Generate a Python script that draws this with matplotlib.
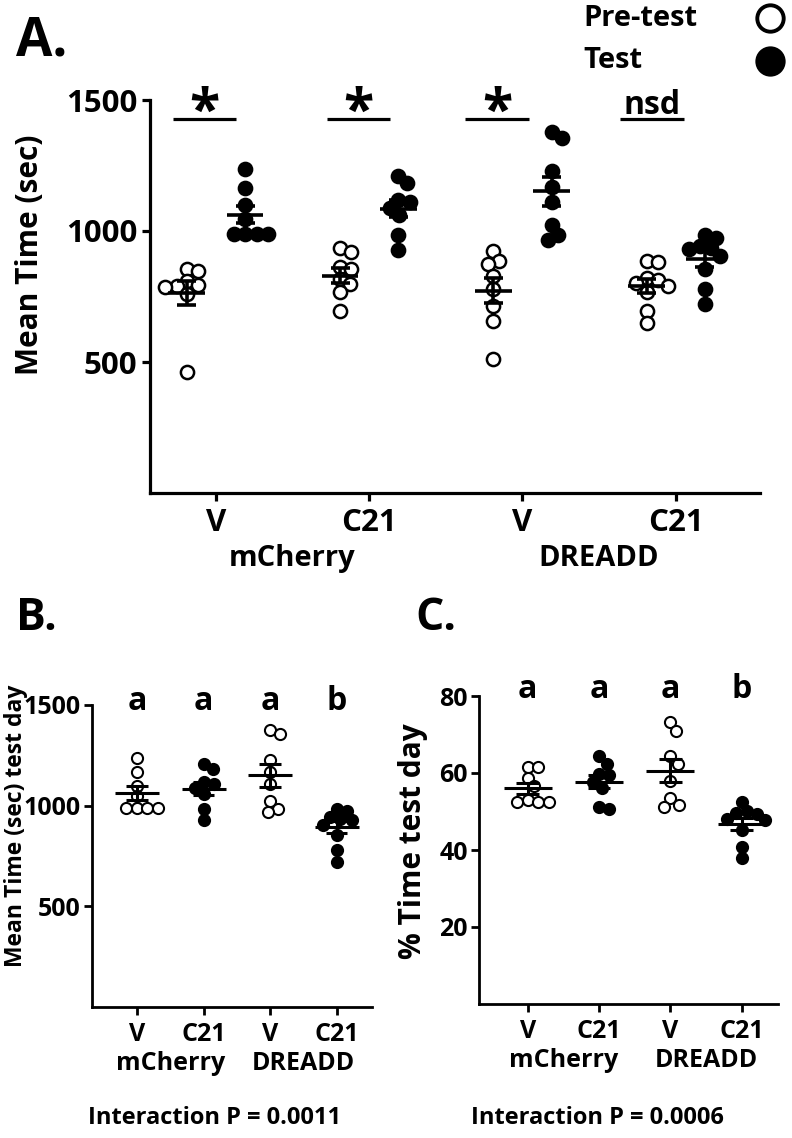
import numpy as np
import matplotlib
matplotlib.use('Agg')
import matplotlib.pyplot as plt
from matplotlib.lines import Line2D

plt.rcParams['font.family'] = ['Open Sans', 'DejaVu Sans']
plt.rcParams['font.weight'] = 'bold'

# ---------------- data ----------------
groups = ['V', 'C21', 'V', 'C21']
viruses = ['mCherry', 'DREADD']

pre_mch_v = [854, 848, 810, 795, 790, 785, 760, 462]
pre_mch_c21 = [934, 918, 861, 855, 816, 797, 766, 694]
pre_dre_v = [924, 886, 873, 829, 780, 715, 658, 512]
pre_dre_c21 = [886, 882, 819, 814, 801, 791, 766, 696, 648]

test_mch_v = [1237, 1165, 1099, 1046, 989, 989, 989, 989]
test_mch_c21 = [1209, 1182, 1118, 1110, 1088, 1060, 985, 927]
test_dre_v = [1377, 1356, 1228, 1167, 1109, 1021, 985, 967]
test_dre_c21 = [984, 975, 944, 935, 930, 906, 856, 778, 720]

pct_mch_v = [61.6, 61.6, 58.7, 56.5, 52.9, 52.4, 52.4, 52.4]
pct_mch_c21 = [64.3, 62.4, 59.8, 59.6, 57.6, 56.1, 51.2, 50.7]
pct_dre_v = [73.2, 70.9, 64.3, 62.4, 57.8, 53.4, 51.8, 51.2]
pct_dre_c21 = [52.5, 50.1, 49.5, 49.3, 48.1, 47.7, 45.3, 40.9, 37.8]

pre_sets = [pre_mch_v, pre_mch_c21, pre_dre_v, pre_dre_c21]
test_sets = [test_mch_v, test_mch_c21, test_dre_v, test_dre_c21]
pct_sets = [pct_mch_v, pct_mch_c21, pct_dre_v, pct_dre_c21]

sig_labels = ['*', '*', '*', 'nsd']
letters = ['a', 'a', 'a', 'b']
p_texts = ['Interaction P = 0.0011', 'Interaction P = 0.0006']
legend_labels = ['Pre-test', 'Test']

# ---------------- helpers ----------------
W, H = 792, 1138


def swarm(ax, x0, vals, diam_px):
    vals = np.asarray(vals, dtype=float)
    pts = ax.transData.transform(np.column_stack([np.full(len(vals), x0), vals]))
    ys = pts[:, 1]
    xc = pts[0, 0]
    order = np.argsort(-vals, kind='stable')
    placed = []
    offs = np.zeros(len(vals))
    for i in order:
        y = ys[i]
        cands = [0.0]
        for (px, py) in placed:
            dy = abs(py - y)
            if dy < diam_px:
                dx = np.sqrt(diam_px ** 2 - dy ** 2)
                cands += [px + dx, px - dx]
        cands = sorted(cands, key=lambda c: (abs(c), -c))
        chosen = cands[-1]
        for c in cands:
            if all((c - px) ** 2 + (y - py) ** 2 >= diam_px ** 2 - 1e-6 for px, py in placed):
                chosen = c
                break
        placed.append((chosen, y))
        offs[i] = chosen
    inv = ax.transData.inverted()
    return inv.transform(np.column_stack([xc + offs, ys]))[:, 0]


def mean_sem(ax, x, vals, hw, cw, lw):
    v = np.asarray(vals, dtype=float)
    m = v.mean()
    s = v.std(ddof=1) / np.sqrt(len(v))
    ax.hlines(m, x - hw, x + hw, color='black', lw=lw, zorder=5)
    ax.vlines(x, m - s, m + s, color='black', lw=lw, zorder=5)
    ax.hlines([m - s, m + s], x - cw, x + cw, color='black', lw=lw, zorder=5)


def style_axes(ax, lw):
    for sp in ['top', 'right']:
        ax.spines[sp].set_visible(False)
    for sp in ['left', 'bottom']:
        ax.spines[sp].set_linewidth(lw)
    ax.tick_params(width=lw, length=6, color='black')


def points(ax, x, vals, filled, ms, mew, diam):
    xs = swarm(ax, x, vals, diam)
    ax.plot(xs, vals, ls='none', marker='o', ms=ms, mew=mew,
            mec='black', mfc='black' if filled else 'white', zorder=3, clip_on=False)


fig = plt.figure(figsize=(W / 100, H / 100), dpi=100)

# ---------------- Panel A ----------------
axA = fig.add_axes([150 / W, (H - 493) / H, 610 / W, 393 / H])
axA.set_xlim(-0.43, 3.55)
axA.set_ylim(0, 1500)
style_axes(axA, 2.3)
axA.set_yticks([500, 1000, 1500])
axA.set_xticks(range(4))
axA.set_xticklabels(groups)
axA.tick_params(labelsize=22.5, pad=3)
axA.tick_params(axis='x', pad=5)
axA.set_ylabel('Mean Time (sec)', fontsize=21.5, fontweight='bold')
axA.yaxis.set_label_coords(-0.172, 0.606)

off = 0.19
msA = 9.5
for i in range(4):
    points(axA, i - off, pre_sets[i], False, msA, 1.8, 11.5)
    points(axA, i + off, test_sets[i], True, msA, 1.8, 11.5)
    mean_sem(axA, i - off, pre_sets[i], 0.12, 0.062, 2.6)
    mean_sem(axA, i + off, test_sets[i], 0.12, 0.062, 2.6)

sig_shift = [-0.075, -0.07, -0.165, -0.155]
for i in range(4):
    c = i + sig_shift[i]
    axA.plot([c - 0.208, c + 0.208], [1428, 1428], color='black', lw=2.3,
             clip_on=False, solid_capstyle='butt')
    if sig_labels[i] == '*':
        axA.text(c, 1392, '*', ha='center', va='baseline', fontsize=40,
                 fontweight='bold', clip_on=False)
    else:
        axA.text(c, 1445, sig_labels[i], ha='center', va='baseline', fontsize=23,
                 fontweight='bold', clip_on=False)

for j, name in enumerate(viruses):
    axA.annotate(name, xy=(2 * j + 0.5, 0), xycoords=('data', 'axes fraction'),
                 xytext=(0, -47), textcoords='offset points', ha='center', va='center',
                 fontsize=21, fontweight='bold')

# legend
for k, lab in enumerate(legend_labels):
    yy = 1 - (18 + 43 * k) / H
    fig.text(583 / W, yy, lab, ha='left', va='center', fontsize=21, fontweight='bold')
    fig.add_artist(Line2D([770 / W], [yy], transform=fig.transFigure, marker='o',
                          ms=19, mew=2.8, mec='black',
                          mfc='white' if k == 0 else 'black', ls='none'))

fig.text(16 / W, 1 - 41 / H, 'A.', ha='left', va='center', fontsize=38, fontweight='bold')

# ---------------- Panel B ----------------
axB = fig.add_axes([91.7 / W, (H - 1007) / H, (372 - 91.7) / W, (1007 - 705) / H])
axB.set_xlim(-0.68, 3.53)
axB.set_ylim(0, 1500)
style_axes(axB, 2.0)
axB.set_yticks([500, 1000, 1500])
axB.set_xticks(range(4))
axB.set_xticklabels(groups)
axB.tick_params(labelsize=18, pad=2)
axB.tick_params(axis='x', pad=5)
axB.set_ylabel('Mean Time (sec) test day', fontsize=16.5, fontweight='bold')
axB.yaxis.set_label_coords(-0.227, 0.6)

for i in range(4):
    points(axB, i, test_sets[i], i % 2 == 1, 8.0, 1.5, 10.5)
    mean_sem(axB, i, test_sets[i], 0.33, 0.16, 2.2)
    axB.text(i, 1475, letters[i], ha='center', va='baseline', fontsize=23,
             fontweight='bold', clip_on=False)

# ---------------- Panel C ----------------
axC = fig.add_axes([478.8 / W, (H - 1004) / H, (778 - 478.8) / W, (1004 - 696) / H])
axC.set_xlim(-0.686, 3.51)
axC.set_ylim(0, 80)
style_axes(axC, 2.0)
axC.set_yticks([20, 40, 60, 80])
axC.set_xticks(range(4))
axC.set_xticklabels(groups)
axC.tick_params(labelsize=18, pad=2)
axC.tick_params(axis='x', pad=5)
axC.set_ylabel('% Time test day', fontsize=21.5, fontweight='bold')
axC.yaxis.set_label_coords(-0.17, 0.53)

for i in range(4):
    points(axC, i, pct_sets[i], i % 2 == 1, 8.0, 1.5, 10.5)
    mean_sem(axC, i, pct_sets[i], 0.335, 0.16, 2.2)
    axC.text(i, 79.5, letters[i], ha='center', va='baseline', fontsize=23,
             fontweight='bold', clip_on=False)

for ax in (axB, axC):
    for j, name in enumerate(viruses):
        ax.annotate(name, xy=(2 * j + 0.5, 0), xycoords=('data', 'axes fraction'),
                    xytext=(0, -41), textcoords='offset points', ha='center', va='center',
                    fontsize=18, fontweight='bold')

fig.text(16 / W, 1 - 618 / H, 'B.', ha='left', va='center', fontsize=32, fontweight='bold')
fig.text(415 / W, 1 - 618 / H, 'C.', ha='left', va='center', fontsize=32, fontweight='bold')

fig.text(215 / W, 1 - 1118 / H, p_texts[0], ha='center', va='center', fontsize=17, fontweight='bold')
fig.text(597 / W, 1 - 1118 / H, p_texts[1], ha='center', va='center', fontsize=17, fontweight='bold')

fig.savefig('out.png', dpi=100)
